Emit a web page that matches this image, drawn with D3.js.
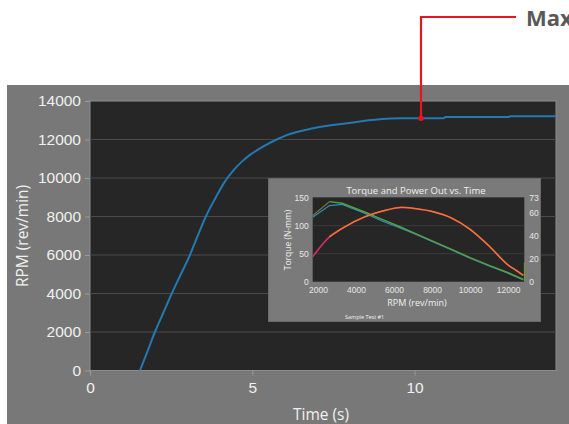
<!DOCTYPE html>
<html><head><meta charset="utf-8">
<script src="https://cdn.jsdelivr.net/npm/d3@7"></script>
<style>body{margin:0;background:#fff;}svg{display:block;font-family:"Open Sans","Noto Sans",sans-serif;}</style>
</head><body><svg id="c" width="569" height="424"></svg>
<script>
// Main series: RPM vs time
const timeS = [1.54, 1.75, 2.0, 2.26, 2.52, 2.8, 3.08, 3.32, 3.57, 3.88, 4.15, 4.42, 4.68, 4.93, 5.3, 5.75, 6.06, 6.88, 7.91, 8.93, 9.6, 10.9, 10.95, 12.9, 12.95, 14.36];
const rpm = [0, 900, 2000, 3000, 4000, 5000, 6000, 7000, 8000, 9000, 9800, 10400, 10850, 11200, 11600, 12000, 12230, 12580, 12840, 13050, 13100, 13100, 13170, 13170, 13210, 13210];
const xTicks = [0, 5, 10];
const yTicks = [0, 2000, 4000, 6000, 8000, 10000, 12000, 14000];
const maxPoint = {t: 10.2, v: 13100};

// Inset series: torque & power vs RPM
const insetRpm = [1720, 2600, 3270, 4480, 5400, 6250, 7130, 8000, 9000, 10000, 11000, 12000, 12800];
const torqueBlue = [115, 136, 138, 122, 108, 97, 85, 72, 57, 42, 28, 15, 3];
const torqueGreen = [118, 143, 140, 124, 111, 99, 86, 73, 58, 43, 29, 16, 4];
const powerRpm = [1720, 2600, 3270, 4480, 5400, 6400, 7130, 8000, 9000, 10000, 11000, 12000, 12500, 12800];
const power = [21.7, 39, 46.4, 56.5, 61.4, 64.6, 63.5, 61, 55.5, 45.5, 31, 14.5, 9, 5.5];
const spikeRpm = [12860, 12860];
const spikeTorque = [1, 34];
const inXTicks = [2000, 4000, 6000, 8000, 10000, 12000];
const inYTicks = [0, 50, 100, 150];
const inY2Ticks = [0, 20, 40, 60, 73];

const svg = d3.select("#c");
svg.append("rect").attr("x", 7).attr("y", 85).attr("width", 562).attr("height", 339).attr("fill", "#787878");

const x = d3.scaleLinear().domain([0, 14.36]).range([90, 556]);
const y = d3.scaleLinear().domain([0, 14000]).range([370.5, 101]);

svg.append("rect").attr("x", 90).attr("y", 101).attr("width", 466).attr("height", 269.5)
  .attr("fill", "#262626").attr("stroke", "#8c8c8c").attr("stroke-width", 1);

svg.append("g").selectAll("line").data(yTicks.filter(d => d > 0 && d < 14000)).join("line")
  .attr("x1", 90).attr("x2", 556).attr("y1", d => y(d)).attr("y2", d => y(d))
  .attr("stroke", "#4a4a4a").attr("stroke-width", 1);

const ya = svg.append("g").attr("transform", "translate(90,0)")
  .call(d3.axisLeft(y).tickValues(yTicks).tickSize(5).tickPadding(4).tickFormat(d3.format("d")));
ya.select(".domain").remove();
ya.selectAll("line").attr("stroke", "#9a9a9a");
ya.selectAll("text").attr("fill", "#f0f0f0").style("font-size", "15.5px");

const xa = svg.append("g").attr("transform", "translate(0,370.5)")
  .call(d3.axisBottom(x).tickValues(xTicks).tickSize(5).tickPadding(6));
xa.select(".domain").remove();
xa.selectAll("line").attr("stroke", "#9a9a9a");
xa.selectAll("text").attr("fill", "#f0f0f0").style("font-size", "15.5px");

svg.append("text").attr("x", 321).attr("y", 420).attr("text-anchor", "middle")
  .attr("fill", "#f0f0f0").style("font-size", "15.5px").text("Time (s)");
svg.append("text").attr("transform", "translate(28,236) rotate(-90)").attr("text-anchor", "middle")
  .attr("fill", "#f0f0f0").style("font-size", "15.5px").text("RPM (rev/min)");

const line = d3.line().x((d, i) => x(timeS[i])).y(d => y(d)).curve(d3.curveMonotoneX);
svg.append("path").datum(rpm).attr("d", line).attr("fill", "none")
  .attr("stroke", "#2379b0").attr("stroke-width", 2);

// annotation
const mx = x(maxPoint.t), my = y(maxPoint.v);
svg.append("path").attr("d", `M${mx},${my} V17 H516`).attr("fill", "none")
  .attr("stroke", "#e8141e").attr("stroke-width", 2.2);
svg.append("circle").attr("cx", mx).attr("cy", my).attr("r", 2.8).attr("fill", "#e8141e");
svg.append("text").attr("x", 526).attr("y", 26).attr("fill", "#595959")
  .style("font-size", "22px").style("font-weight", "bold").text("Max");

// inset
const ig = svg.append("g");
ig.append("rect").attr("x", 268.5).attr("y", 178.5).attr("width", 272).attr("height", 143)
  .attr("fill", "#7a7a7a").attr("stroke", "#6a6a6a");
const ix = d3.scaleLinear().domain([1720, 12850]).range([312.7, 524.3]);
const iy = d3.scaleLinear().domain([0, 150]).range([281.7, 197.7]);
const iy2 = d3.scaleLinear().domain([0, 73]).range([281.7, 197.7]);
ig.append("rect").attr("x", 312.7).attr("y", 197.7).attr("width", 211.6).attr("height", 84).attr("fill", "#262626");
ig.append("g").selectAll("line").data(inYTicks.filter(d => d > 0)).join("line")
  .attr("x1", 312.7).attr("x2", 524.3).attr("y1", d => iy(d)).attr("y2", d => iy(d))
  .attr("stroke", "#3c3c3c");

const iya = ig.append("g").attr("transform", "translate(312.7,0)")
  .call(d3.axisLeft(iy).tickValues(inYTicks).tickSize(0).tickPadding(4).tickFormat(d3.format("d")));
const iy2a = ig.append("g").attr("transform", "translate(524.3,0)")
  .call(d3.axisRight(iy2).tickValues(inY2Ticks).tickSize(0).tickPadding(5).tickFormat(d3.format("d")));
const ixa = ig.append("g").attr("transform", "translate(0,281.7)")
  .call(d3.axisBottom(ix).tickValues(inXTicks).tickSize(0).tickPadding(5).tickFormat(d3.format("d")));
[iya, iy2a, ixa].forEach(a => {
  a.select(".domain").remove();
  a.selectAll("text").attr("fill", "#e6e6e6").style("font-size", "8.5px");
});
ig.append("text").attr("x", 416).attr("y", 194).attr("text-anchor", "middle").attr("fill", "#f0f0f0")
  .style("font-size", "9.5px").text("Torque and Power Out vs. Time");
ig.append("text").attr("x", 417).attr("y", 306).attr("text-anchor", "middle").attr("fill", "#f0f0f0")
  .style("font-size", "9px").text("RPM (rev/min)");
ig.append("text").attr("transform", "translate(291,240) rotate(-90)").attr("text-anchor", "middle")
  .attr("fill", "#f0f0f0").style("font-size", "8.5px").text("Torque (N-mm)");
ig.append("text").attr("x", 345).attr("y", 318.5).attr("fill", "#f0f0f0")
  .style("font-size", "5.5px").text("Sample Test #1");

const tl = arr => d3.line().x((d, i) => ix(arr[i])).y(d => iy(d));
const pl = arr => d3.line().x((d, i) => ix(arr[i])).y(d => iy2(d)).curve(d3.curveMonotoneX);
ig.append("path").datum(torqueBlue).attr("d", tl(insetRpm)).attr("fill", "none").attr("stroke", "#2a8fc0").attr("stroke-width", 1.2);
ig.append("path").datum(torqueGreen.slice(0, 2)).attr("d", tl(insetRpm.slice(0, 2))).attr("fill", "none").attr("stroke", "#8a7a3a").attr("stroke-width", 1.2);
ig.append("path").datum(torqueGreen.slice(1)).attr("d", tl(insetRpm.slice(1))).attr("fill", "none").attr("stroke", "#5aa03c").attr("stroke-width", 1.4);
ig.append("path").datum(spikeTorque).attr("d", tl(spikeRpm)).attr("fill", "none").attr("stroke", "#6a9a30").attr("stroke-width", 1.2);
ig.append("path").datum(power).attr("d", pl(powerRpm)).attr("fill", "none").attr("stroke", "#d0306a").attr("stroke-width", 1.6);
ig.append("path").datum(power.slice(1)).attr("d", pl(powerRpm.slice(1))).attr("fill", "none").attr("stroke", "#ec7a2e").attr("stroke-width", 1.4);
</script></body></html>
